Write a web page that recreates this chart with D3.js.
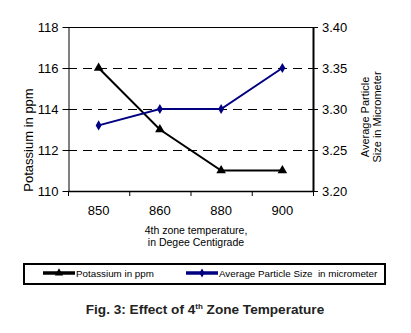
<!DOCTYPE html>
<html>
<head>
<meta charset="utf-8">
<script src="https://cdn.jsdelivr.net/npm/d3@7"></script>
<style>
  html, body { margin: 0; padding: 0; background: #fff; }
  svg { display: block; font-family: Arial, "Liberation Sans", sans-serif; }
</style>
</head>
<body>
<svg id="chart" width="411" height="333"></svg>
<script>
// Temperature categories (4th zone, °C)
const temperatures = ["850", "860", "880", "900"];
// Potassium content, ppm (left axis)
const potassium = [116, 113, 111, 111];
// Average particle size, micrometer (right axis)
const particleSize = [3.28, 3.30, 3.30, 3.35];
// Tick values
const leftTicks = [110, 112, 114, 116, 118];
const rightTicks = [3.20, 3.25, 3.30, 3.35, 3.40];

const svg = d3.select("#chart");
const plot = { left: 68, right: 313, top: 27, bottom: 191 };

const x = d3.scaleBand().domain(temperatures).range([plot.left, plot.right]).padding(0);
const yL = d3.scaleLinear().domain([110, 118]).range([plot.bottom, plot.top]);
const yR = d3.scaleLinear().domain([3.20, 3.40]).range([plot.bottom, plot.top]);

// dashed gridlines
svg.append("g").selectAll("line")
  .data(leftTicks.filter(d => d > 110 && d < 118))
  .join("line")
  .attr("x1", plot.left).attr("x2", plot.right)
  .attr("y1", d => Math.round(yL(d)) + 0.5).attr("y2", d => Math.round(yL(d)) + 0.5)
  .attr("stroke", "#000").attr("stroke-width", 1)
  .attr("shape-rendering", "crispEdges")
  .attr("stroke-dasharray", "9,6");

// top border
svg.append("line")
  .attr("x1", plot.left).attr("x2", plot.right)
  .attr("y1", plot.top + 0.5).attr("y2", plot.top + 0.5)
  .attr("stroke", "#000").attr("stroke-width", 1)
  .attr("shape-rendering", "crispEdges");

// left axis
const axL = svg.append("g").attr("transform", `translate(${plot.left + 0.5},0)`)
  .call(d3.axisLeft(yL).tickValues(leftTicks).tickSize(6).tickSizeOuter(0).tickFormat(d3.format("d")));
axL.select(".domain").attr("stroke", "#000").attr("stroke-width", 1);
axL.selectAll(".tick line").attr("stroke", "#000");
axL.selectAll(".tick text").attr("font-size", 13).attr("font-family", "Arial, 'Liberation Sans', sans-serif").attr("fill", "#000").attr("x", -10);

// right axis
const axR = svg.append("g").attr("transform", `translate(${plot.right},0)`)
  .call(d3.axisRight(yR).tickValues(rightTicks).tickSize(5).tickSizeOuter(0).tickFormat(d3.format(".2f")));
axR.select(".domain").attr("stroke", "#000").attr("stroke-width", 2);
axR.selectAll(".tick line").attr("stroke", "#000");
axR.selectAll(".tick text").attr("font-size", 13).attr("font-family", "Arial, 'Liberation Sans', sans-serif").attr("fill", "#000").attr("x", 9);

// bottom axis
const axB = svg.append("g").attr("transform", `translate(0,${plot.bottom})`)
  .call(d3.axisBottom(x).tickSize(0).tickSizeOuter(0));
axB.select(".domain").attr("stroke", "#000").attr("stroke-width", 1.5);
axB.selectAll(".tick text").attr("font-size", 13).attr("font-family", "Arial, 'Liberation Sans', sans-serif").attr("fill", "#000").attr("dy", "0").attr("y", 24);
// category separators
const bounds = [plot.left].concat(temperatures.map(t => x(t) + x.bandwidth()));
svg.append("g").selectAll("line").data(bounds).join("line")
  .attr("x1", d => d + 0.5).attr("x2", d => d + 0.5)
  .attr("y1", plot.bottom).attr("y2", plot.bottom + 5)
  .attr("stroke", "#000").attr("stroke-width", 1);

// axis titles
svg.append("text")
  .attr("transform", `translate(33,140) rotate(-90)`)
  .attr("text-anchor", "middle").attr("font-size", 13).text("Potassium in ppm");

const rt = svg.append("text")
  .attr("transform", `translate(369,117) rotate(-90)`)
  .attr("text-anchor", "middle").attr("font-size", 11);
rt.append("tspan").attr("x", 0).attr("dy", 0).text("Average Particle");
rt.append("tspan").attr("x", 0).attr("dy", 12).text("Size in Micrometer");

const xt = svg.append("text").attr("text-anchor", "middle").attr("font-size", 10.5);
xt.append("tspan").attr("x", 196).attr("y", 234).text("4th zone temperature,");
xt.append("tspan").attr("x", 196).attr("y", 246).text("in Degee Centigrade");

const cx = d => x(d) + x.bandwidth() / 2;

// potassium series
const kData = temperatures.map((t, i) => ({ t, v: potassium[i] }));
svg.append("path").datum(kData)
  .attr("fill", "none").attr("stroke", "#000").attr("stroke-width", 2)
  .attr("d", d3.line().x(d => cx(d.t)).y(d => yL(d.v)));
svg.append("g").selectAll("path").data(kData).join("path")
  .attr("transform", d => `translate(${cx(d.t)},${yL(d.v)})`)
  .attr("d", d3.symbol(d3.symbolTriangle, 40))
  .attr("fill", "#000");

// particle size series
const pData = temperatures.map((t, i) => ({ t, v: particleSize[i] }));
svg.append("path").datum(pData)
  .attr("fill", "none").attr("stroke", "#000080").attr("stroke-width", 2)
  .attr("d", d3.line().x(d => cx(d.t)).y(d => yR(d.v)));
svg.append("g").selectAll("path").data(pData).join("path")
  .attr("transform", d => `translate(${cx(d.t)},${yR(d.v)})`)
  .attr("d", d3.symbol(d3.symbolDiamond, 30))
  .attr("fill", "#000080");

// legend
const lg = svg.append("g");
lg.append("rect").attr("x", 24).attr("y", 264).attr("width", 361).attr("height", 20)
  .attr("fill", "#fff").attr("stroke", "#000").attr("stroke-width", 2);
const legendItems = [
  { label: "Potassium in ppm", color: "#000", sym: d3.symbolTriangle, size: 30, x0: 43, x1: 75 },
  { label: "Average Particle Size  in micrometer", color: "#000080", sym: d3.symbolDiamond, size: 24, x0: 186, x1: 218 }
];
legendItems.forEach(it => {
  lg.append("line").attr("x1", it.x0).attr("x2", it.x1).attr("y1", 273).attr("y2", 273)
    .attr("stroke", it.color).attr("stroke-width", 3.5);
  lg.append("path").attr("transform", `translate(${(it.x0 + it.x1) / 2},273)`)
    .attr("d", d3.symbol(it.sym, it.size)).attr("fill", it.color);
  lg.append("text").attr("x", it.x1 + 1).attr("y", 277).attr("font-size", 9.8)
    .attr("xml:space", "preserve").style("white-space", "pre").text(it.label);
});

// caption
const cap = svg.append("text").attr("x", 205).attr("y", 314).attr("text-anchor", "middle")
  .attr("font-size", 13.6).attr("font-weight", "bold").attr("fill", "#222");
cap.append("tspan").text("Fig. 3: Effect of 4");
cap.append("tspan").attr("font-size", 8).attr("dy", -5).text("th");
cap.append("tspan").attr("dy", 5).text(" Zone Temperature");
</script>
</body>
</html>
